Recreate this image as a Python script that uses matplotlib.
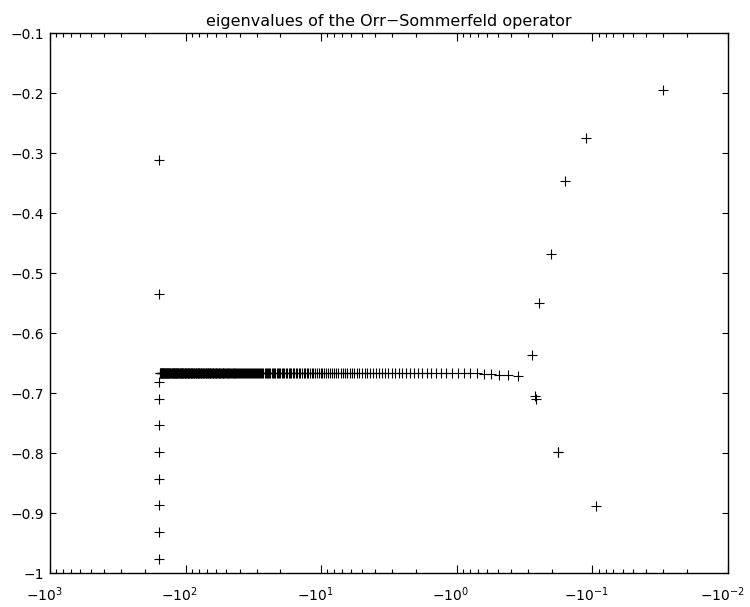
import numpy as np
import matplotlib
matplotlib.use("Agg")
import matplotlib.pyplot as plt
import matplotlib.transforms as mtransforms
from matplotlib.ticker import FixedLocator, NullFormatter

plt.rcParams['font.family'] = ['DejaVu Sans']
plt.rcParams['mathtext.default'] = 'regular'

line_re = [
    -0.356, -0.418, -0.485, -0.556, -0.633, -0.714, -0.800, -0.892, -0.988, -1.089,
    -1.195, -1.306, -1.422, -1.543, -1.669, -1.800, -1.935, -2.076, -2.222, -2.372,
    -2.528, -2.688, -2.853, -3.024, -3.199, -3.379, -3.564, -3.754, -3.949, -4.149,
    -4.353, -4.563, -4.778, -4.998, -5.222, -5.452, -5.686, -5.925, -6.170, -6.419,
    -6.673, -6.932, -7.196, -7.465, -7.739, -8.018, -8.301, -8.590, -8.884, -9.181,
    -9.485, -9.793, -10.11, -10.43, -10.75, -11.08, -11.41, -11.75, -12.09, -12.44,
    -12.79, -13.15, -13.51, -13.88, -14.25, -14.63, -15.01, -15.40, -15.79, -16.19,
    -16.59, -17.00, -17.41, -17.83, -18.25, -18.68, -19.11, -19.55, -19.99, -20.43,
    -20.89, -21.34, -21.80, -22.27, -22.74, -23.22, -23.70, -24.18, -24.67,
    -25.17, -25.67, -26.18, -26.69, -27.20, -27.72, -28.25, -28.78, -29.32, -29.86,
    -30.40, -30.95, -31.51, -32.07, -32.63, -33.20, -33.78, -34.36, -34.94, -35.53,
    -36.13, -36.73, -37.33, -37.94, -38.55, -39.17, -39.80, -40.43, -41.06, -41.70,
    -42.34, -42.99, -43.65, -44.31, -44.97, -45.64, -46.31, -46.99, -47.67, -48.36,
    -49.06, -49.75, -50.46, -51.16, -51.88, -52.60, -53.32, -54.05, -54.78, -55.52,
    -56.26, -57.01, -57.76, -58.52, -59.28, -60.05, -60.82, -61.60, -62.38, -63.17,
    -63.96, -64.75, -65.56, -66.36, -67.18, -67.99, -68.81, -69.64, -70.47, -71.31,
    -72.15, -73.00, -73.85, -74.70, -75.56, -76.43, -77.30, -78.18, -79.06, -79.94,
    -80.83, -81.73, -82.63, -83.54, -84.45, -85.36, -86.28, -87.21, -88.14, -89.07,
    -90.01, -90.96, -91.91, -92.86, -93.82, -94.79, -95.76, -96.73, -97.71, -98.70,
    -99.69, -100.7, -101.7, -102.7, -103.7, -104.7, -105.7, -106.8, -107.8, -108.8,
    -109.9, -110.9, -111.9, -113.0, -114.1, -115.1, -116.2, -117.3, -118.3, -119.4,
    -120.5, -121.6, -122.7, -123.8, -124.9, -126.0, -127.1, -128.3, -129.4, -130.5,
    -131.7, -132.8, -134.0, -135.1, -136.3, -137.4, -138.6, -139.8, -140.9, -142.1,
    -143.3, -144.5, -145.7, -146.9, -148.1, -149.3, -150.5, -151.8, -153.0, -154.2,
    -155.5,
]
# the branch bends down slightly at its right end
line_im_end = [-0.671, -0.670, -0.669, -0.668, -0.6675]
line_im = line_im_end + [-0.6667] * (len(line_re) - len(line_im_end))

# vertical column near -1.6e2
col_re = [-157] * 10
col_im = [-0.312, -0.535, -0.681, -0.709, -0.753, -0.798, -0.843, -0.887, -0.932, -0.976]

# scattered eigenvalues on the right
right_re = [-0.0301, -0.111, -0.158, -0.201, -0.249, -0.2805, -0.267, -0.259, -0.180, -0.179, -0.094]
right_im = [-0.194, -0.275, -0.346, -0.468, -0.550, -0.637, -0.704, -0.7095, -0.7975, -0.798, -0.8875]

xticks = [-1e3, -1e2, -1e1, -1e0, -1e-1, -1e-2]
xticklabels = [r'$-10^{3}$', r'$-10^{2}$', r'$-10^{1}$', r'$-10^{0}$', r'$-10^{-1}$', r'$-10^{-2}$']
yticks = [-1, -0.9, -0.8, -0.7, -0.6, -0.5, -0.4, -0.3, -0.2, -0.1]
yticklabels = ['\u22121', '\u22120.9', '\u22120.8', '\u22120.7', '\u22120.6',
               '\u22120.5', '\u22120.4', '\u22120.3', '\u22120.2', '\u22120.1']


def fwd(x):
    with np.errstate(invalid='ignore', divide='ignore'):
        return -np.log10(-np.asarray(x, dtype=float))


def inv(y):
    return -10.0 ** (-np.asarray(y, dtype=float))


fig = plt.figure(figsize=(7.5, 6.07), dpi=100)
ax = fig.add_axes([0.0667, 0.056, 0.904, 0.889])
ax.set_xscale('function', functions=(fwd, inv))

mk = dict(linestyle='none', marker='+', color='black', markersize=6.5, markeredgewidth=0.8)
ax.plot(line_re, line_im, **mk)
ax.plot(col_re, col_im, **mk)
ax.plot(right_re, right_im, **mk)

ax.set_xlim(-1e3, -1e-2)
ax.set_ylim(-1, -0.1)

ax.xaxis.set_major_locator(FixedLocator(xticks))
ax.set_xticklabels(xticklabels)
minor = [-k * 10.0 ** e for e in range(-2, 3) for k in range(2, 10)]
ax.xaxis.set_minor_locator(FixedLocator(minor))
ax.xaxis.set_minor_formatter(NullFormatter())
ax.set_yticks(yticks)
ax.set_yticklabels(yticklabels)

ax.tick_params(axis='both', which='both', direction='in', top=True, right=True,
               labelsize=10, width=0.8)
ax.tick_params(axis='x', which='major', length=6, pad=9)
ax.tick_params(axis='x', which='minor', length=3)
ax.tick_params(axis='y', which='major', length=4.3, pad=4)
for s in ax.spines.values():
    s.set_linewidth(1.0)

# matlab puts the base of the label under the tick, exponent sticks out right
shift = mtransforms.ScaledTranslation(-6 / 100, 0, fig.dpi_scale_trans)
for lab in ax.get_xticklabels():
    lab.set_transform(lab.get_transform() + shift)

ax.set_title('eigenvalues of the Orr\u2212Sommerfeld operator', fontsize=11.5, pad=5)

fig.savefig('out.png', dpi=100)
